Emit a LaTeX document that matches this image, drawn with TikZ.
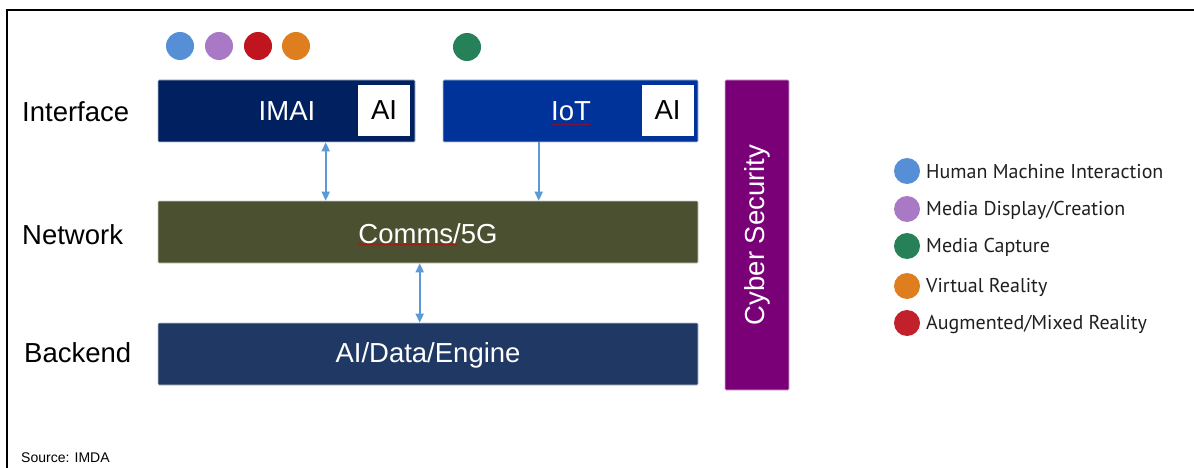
\documentclass[tikz,border=0pt]{standalone}
\usepackage{fontspec}
\setmainfont{Liberation Sans}
\newfontfamily\legendfont{PT Sans}
\usetikzlibrary{arrows.meta,decorations.pathmorphing}

\definecolor{imaiblue}{RGB}{0,32,96}
\definecolor{iotblue}{RGB}{0,51,153}
\definecolor{commsolive}{RGB}{75,80,48}
\definecolor{backnavy}{RGB}{32,56,100}
\definecolor{cyberpurple}{RGB}{122,0,120}
\definecolor{linkblue}{RGB}{91,155,213}
\definecolor{hmiblue}{RGB}{87,143,214}
\definecolor{mediapurple}{RGB}{169,121,198}
\definecolor{capgreen}{RGB}{38,128,88}
\definecolor{vrorange}{RGB}{222,126,31}
\definecolor{arred}{RGB}{192,20,30}
\definecolor{arredlegend}{RGB}{194,32,42}

\tikzset{
  layerbox/.style={rectangle, minimum height=62pt, inner sep=0pt, text=white,
                   draw=white!70!#1, line width=0.6pt, fill=#1, rounded corners=1pt},
  aibox/.style={rectangle, fill=white, minimum width=52pt, minimum height=51pt,
                inner sep=0pt, font=\fontsize{27.5}{30}\selectfont},
  boxtext/.style={text=white, inner sep=0pt, font=\fontsize{27.5}{30}\selectfont},
  rowlabel/.style={anchor=west, inner sep=0pt, font=\fontsize{27.5}{30}\selectfont},
  dot/.style={circle, fill=#1, minimum size=28pt, inner sep=0pt},
  legdot/.style={circle, fill=#1, minimum size=26pt, inner sep=0pt},
  legtext/.style={anchor=west, inner sep=0pt, text=black!88,
                  font=\legendfont\fontsize{20}{23}\selectfont},
  link/.style={draw=linkblue, line width=1.8pt},
  dbl/.style={link, {Triangle[length=9pt,width=8pt]}-{Triangle[length=9pt,width=8pt]}},
  one/.style={link, -{Triangle[length=9pt,width=8pt]}},
  squig/.style={draw=red!80!black, line width=0.45pt,
                decorate, decoration={snake, amplitude=0.6pt, segment length=2.5pt}}
}

\begin{document}
\begin{tikzpicture}[x=1pt, y=-1pt]
\useasboundingbox (0,0) rectangle (1194,468);

% frame
\draw[line width=2pt] (7,468) -- (7,10) -- (1194,10);

% capability dots above the interface boxes
\node[dot=hmiblue]     (d1) at (180,46) {};
\node[dot=mediapurple] (d2) at (219,46) {};
\node[dot=arred]       (d3) at (258,46) {};
\node[dot=vrorange]    (d4) at (296,46) {};
\node[dot=capgreen]    (d5) at (467,47) {};

% row labels
\node[rowlabel] (lint) at (22,112) {Interface};
\node[rowlabel] (lnet) at (22,235) {Network};
\node[rowlabel] (lbak) at (24,353) {Backend};

% interface layer
\node[layerbox=imaiblue, minimum width=257pt] (imai) at (286.5,111) {};
\node[boxtext] (imaitxt) at (287,111) {IMAI};
\node[aibox] (imaiai) at (384,110.5) {AI};

\node[layerbox=iotblue, minimum width=255pt] (iot) at (570.5,111) {};
\node[boxtext] (iottxt) at (571,111) {IoT};
\node[aibox] (iotai) at (667.5,110.5) {AI};

% network and backend layers
\node[layerbox=commsolive, minimum width=540pt] (comms) at (428,232) {};
\node[boxtext] (commstxt) at (428,234) {Comms/5G};

\node[layerbox=backnavy, minimum width=540pt] (back) at (428,354) {};
\node[boxtext] (backtxt) at (428,355) {AI/Data/Engine};

% security column
\node[layerbox=cyberpurple, minimum width=64pt, minimum height=310pt] (cyber) at (757,235) {};
\node[boxtext, rotate=90] (cybertxt) at (757,235) {Cyber Security};

% spell-check marks
\draw[squig] (551,124.5) -- (591,124.5);
\draw[squig] (358,244.5) -- (458,244.5);

% links between layers
\draw[dbl] ([xshift=168pt]imai.south west) -- ([xshift=168pt]comms.north west);
\draw[one] ([xshift=96pt]iot.south west) -- ([xshift=381pt]comms.north west);
\draw[dbl] ([xshift=262pt]comms.south west) -- ([xshift=262pt]back.north west);

% legend
\node[legdot=hmiblue]     (g1) at (907,171) {};
\node[legdot=mediapurple] (g2) at (907,209) {};
\node[legdot=capgreen]    (g3) at (907,246) {};
\node[legdot=vrorange]    (g4) at (907,286) {};
\node[legdot=arredlegend] (g5) at (907,323) {};
\node[legtext] (t1) at (926,172) {Human Machine Interaction};
\node[legtext] (t2) at (926,210) {Media Display/Creation};
\node[legtext] (t3) at (926,247) {Media Capture};
\node[legtext] (t4) at (926,287) {Virtual Reality};
\node[legtext] (t5) at (926,324) {Augmented/Mixed Reality};

% source note
\node[anchor=west, inner sep=0pt, font=\fontsize{14}{16}\selectfont] (src) at (21,458) {Source: IMDA};
\end{tikzpicture}
\end{document}
